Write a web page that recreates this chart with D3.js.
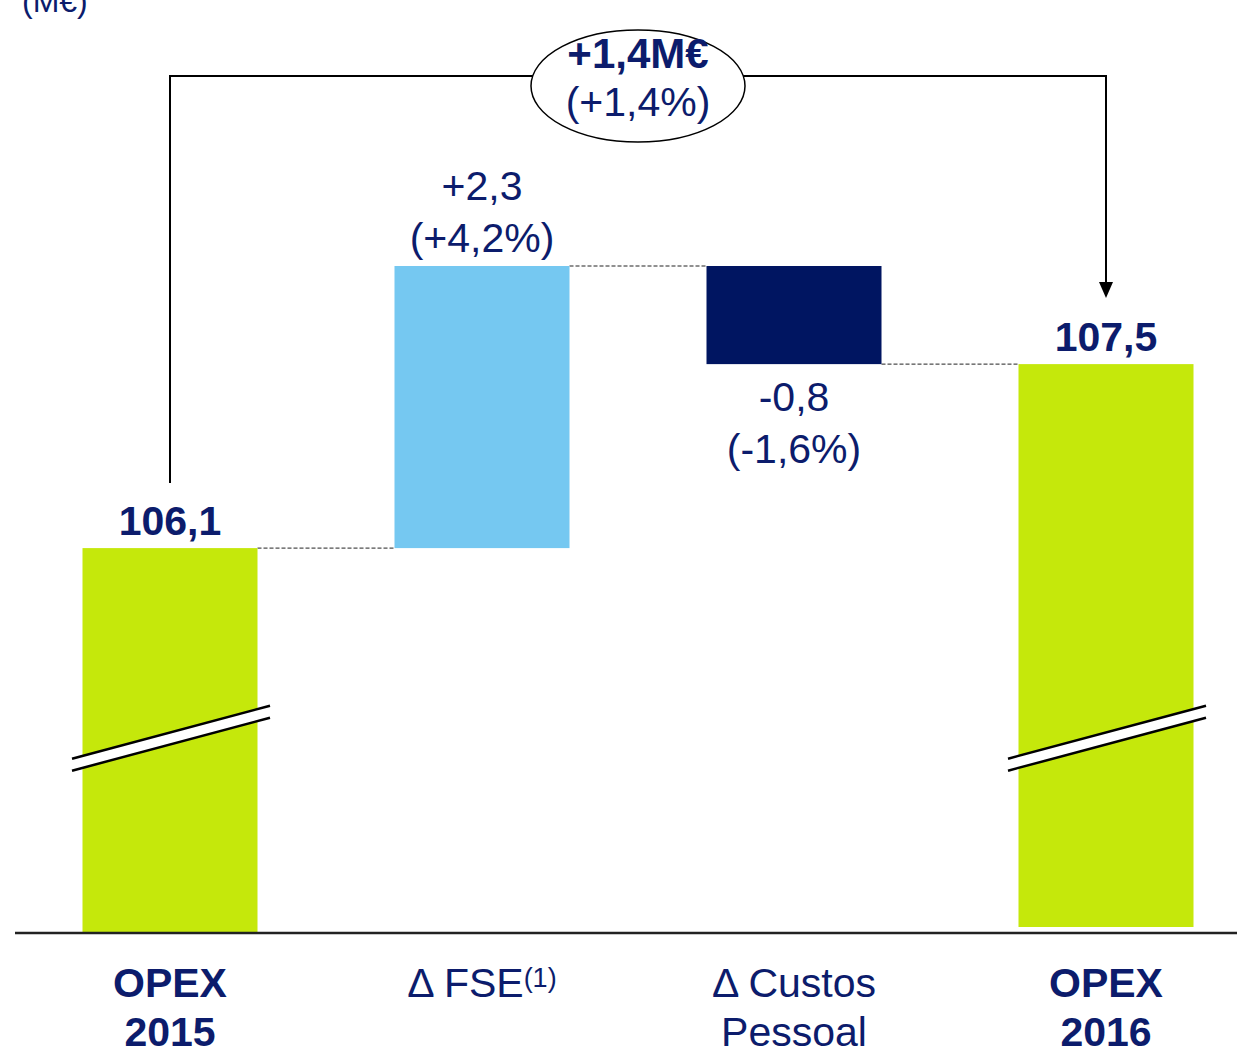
<!DOCTYPE html>
<html>
<head>
<meta charset="utf-8">
<script src="https://cdn.jsdelivr.net/npm/d3@7"></script>
<style>
  html, body { margin: 0; padding: 0; background: #ffffff; }
  svg { display: block; }
  text { font-family: "Liberation Sans", Arial, sans-serif; fill: #0c1c6c; }
</style>
</head>
<body>
<svg id="chart" width="1237" height="1055"></svg>
<script>
// ---- data ----
const categories = ["OPEX 2015", "Δ FSE", "Δ Custos Pessoal", "OPEX 2016"];
const barTypes = ["total", "delta", "delta", "total"];
const barValues = [106.1, 2.3, -0.8, 107.6];
const valueLabels = ["106,1", "+2,3", "-0,8", "107,5"];
const pctLabels = ["", "(+4,2%)", "(-1,6%)", ""];
const xLabelLines = [["OPEX", "2015"], ["Δ FSE"], ["Δ Custos", "Pessoal"], ["OPEX", "2016"]];
const xLabelBold = [true, false, false, true];
const totalChangeLabel = "+1,4M€";
const totalChangePct = "(+1,4%)";
const unitLabel = "(M€)";
const axisBreakValue = 104.55;
const axisBaseValue = 102.97;

const colors = ["#c5e80b", "#75c8f1", "#001561", "#c5e80b"];

// ---- layout ----
const svg = d3.select("#chart");
const W = 1237, H = 1055;
const barW = 175;

const x = d3.scalePoint().domain(categories).range([170, 1106]).padding(0);
const y = d3.scaleLinear().domain([axisBaseValue, 108.4]).range([932, 266]);

// compute waterfall extents
let running = 0;
const bars = categories.map((c, i) => {
  let lo, hi;
  if (barTypes[i] === "total") {
    lo = axisBaseValue; hi = barValues[i]; running = barValues[i];
  } else {
    const prev = running; running = prev + barValues[i];
    lo = Math.min(prev, running); hi = Math.max(prev, running);
  }
  return { cat: c, i, lo, hi, end: running, type: barTypes[i] };
});

// dashed connectors
for (let i = 0; i < bars.length - 1; i++) {
  const yv = y(bars[i].end);
  svg.append("line")
    .attr("x1", x(bars[i].cat) + barW / 2).attr("x2", x(bars[i + 1].cat) - barW / 2)
    .attr("y1", yv).attr("y2", yv)
    .attr("stroke", "#222").attr("stroke-width", 1)
    .attr("stroke-dasharray", "4,2");
}

// bars
svg.selectAll("rect.bar").data(bars).enter().append("rect")
  .attr("class", "bar")
  .attr("x", d => x(d.cat) - barW / 2)
  .attr("width", barW)
  .attr("y", d => y(d.hi))
  .attr("height", d => (y(d.lo) - y(d.hi)) - (d.i === bars.length - 1 ? 5 : 0))
  .attr("fill", (d, i) => colors[i]);

// axis break marks on total bars
bars.filter(d => d.type === "total").forEach(d => {
  const cx = x(d.cat);
  const cy = y(axisBreakValue);
  const x0 = cx - 98, x1 = cx + 100;
  const dyS = 26.5;
  const gap = 12;
  svg.append("polygon")
    .attr("points", [[x0, cy + dyS - gap / 2], [x1, cy - dyS - gap / 2], [x1, cy - dyS + gap / 2], [x0, cy + dyS + gap / 2]].map(p => p.join(",")).join(" "))
    .attr("fill", "#ffffff");
  [-gap / 2, gap / 2].forEach(o => {
    svg.append("line")
      .attr("x1", x0).attr("y1", cy + dyS + o)
      .attr("x2", x1).attr("y2", cy - dyS + o)
      .attr("stroke", "#000").attr("stroke-width", 2.5);
  });
});

// baseline
svg.append("line")
  .attr("x1", 15).attr("x2", W)
  .attr("y1", y(axisBaseValue) + 1).attr("y2", y(axisBaseValue) + 1)
  .attr("stroke", "#222").attr("stroke-width", 2.5);

// value labels
bars.forEach((d, i) => {
  const cx = x(d.cat);
  if (d.type === "total") {
    svg.append("text").attr("x", cx).attr("y", y(d.hi) - 13)
      .attr("text-anchor", "middle").attr("font-size", 41).attr("font-weight", "bold")
      .text(valueLabels[i]);
  } else if (barValues[i] >= 0) {
    svg.append("text").attr("x", cx).attr("y", y(d.hi) - 66)
      .attr("text-anchor", "middle").attr("font-size", 41).text(valueLabels[i]);
    svg.append("text").attr("x", cx).attr("y", y(d.hi) - 14)
      .attr("text-anchor", "middle").attr("font-size", 41).text(pctLabels[i]);
  } else {
    svg.append("text").attr("x", cx).attr("y", y(d.lo) + 47)
      .attr("text-anchor", "middle").attr("font-size", 41).text(valueLabels[i]);
    svg.append("text").attr("x", cx).attr("y", y(d.lo) + 99)
      .attr("text-anchor", "middle").attr("font-size", 41).text(pctLabels[i]);
  }
});

// x labels
categories.forEach((c, i) => {
  const t = svg.append("text").attr("x", x(c)).attr("y", 997)
    .attr("text-anchor", "middle").attr("font-size", 41)
    .attr("font-weight", xLabelBold[i] ? "bold" : "normal");
  xLabelLines[i].forEach((line, k) => {
    t.append("tspan").attr("x", x(c)).attr("dy", k === 0 ? 0 : 49).text(line);
  });
  if (c === "Δ FSE") {
    t.append("tspan").attr("dy", -10).attr("font-size", 27).text("(1)");
  }
});

// bracket with arrow
const bx0 = x(categories[0]);
const bx1 = x(categories[3]);
const bTop = 76;
svg.append("path")
  .attr("d", `M${bx0},${y(bars[0].hi) - 65} L${bx0},${bTop} L${bx1},${bTop} L${bx1},${y(bars[3].hi) - 81}`)
  .attr("fill", "none").attr("stroke", "#000").attr("stroke-width", 2);
const tipY = y(bars[3].hi) - 66;
svg.append("path")
  .attr("d", `M${bx1 - 7},${tipY - 16} L${bx1 + 7},${tipY - 16} L${bx1},${tipY} Z`)
  .attr("fill", "#000");

// ellipse with total change
const ex = (bx0 + bx1) / 2;
svg.append("ellipse").attr("cx", ex).attr("cy", 86).attr("rx", 107).attr("ry", 56)
  .attr("fill", "#fff").attr("stroke", "#000").attr("stroke-width", 1.5);
svg.append("text").attr("x", ex).attr("y", 68).attr("text-anchor", "middle")
  .attr("font-size", 42).attr("font-weight", "bold").text(totalChangeLabel);
svg.append("text").attr("x", ex).attr("y", 116).attr("text-anchor", "middle")
  .attr("font-size", 41).text(totalChangePct);

// unit label
svg.append("text").attr("x", 22).attr("y", 12).attr("font-size", 32).text(unitLabel);
</script>
</body>
</html>
